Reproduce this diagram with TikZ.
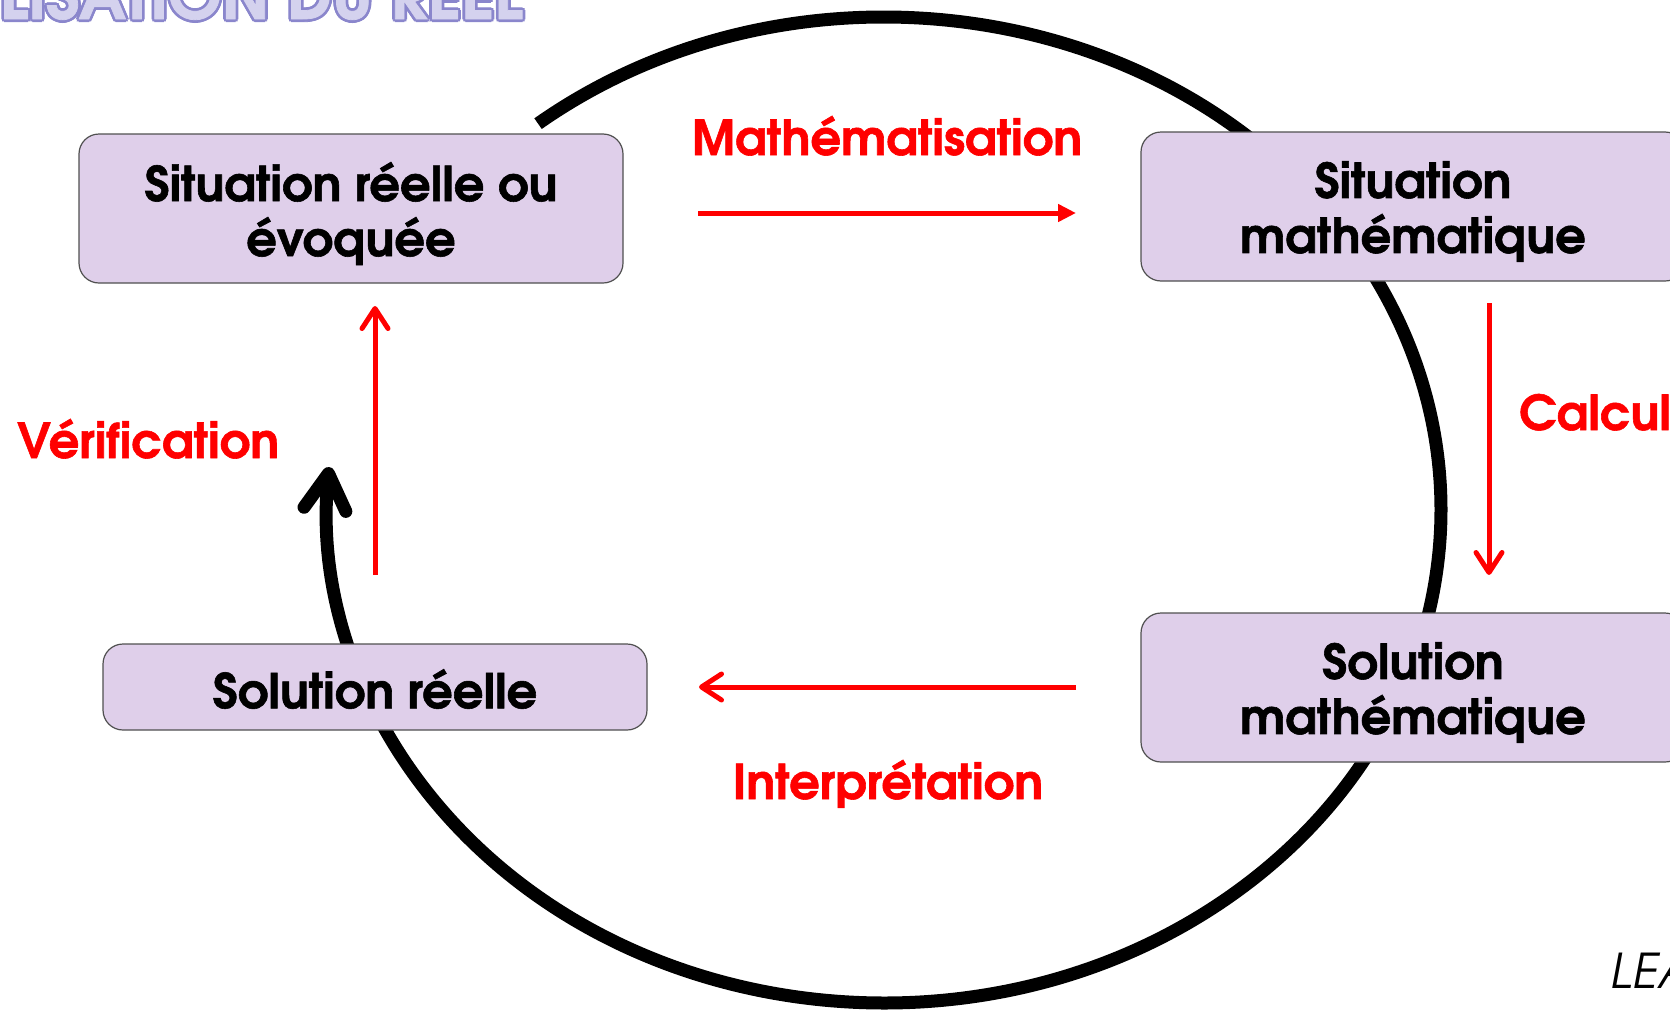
\documentclass[tikz,border=0pt]{standalone}
\usepackage{fontspec}
\setmainfont{TeX Gyre Adventor}[BoldFeatures={FakeBold=1.2}]
\usetikzlibrary{arrows.meta}
\definecolor{boxfill}{RGB}{223,207,234}
\definecolor{boxline}{RGB}{80,80,80}
\definecolor{ttl}{RGB}{138,134,204}
\definecolor{ttlfill}{RGB}{212,210,238}
\begin{document}
\begin{tikzpicture}[x=1pt,y=1pt,
  box/.style={draw=boxline, line width=1.2pt, fill=boxfill, rounded corners=20pt,
    minimum width=544pt, inner sep=0pt},
  boxtext/.style={inner sep=0pt, align=center,
    font=\bfseries\fontsize{48}{55}\selectfont},
  lbl/.style={text=red, font=\bfseries\fontsize{48}{55}\selectfont, inner sep=0pt},
  redarr/.style={draw=red, line width=5pt},
  barb/.style={-{Straight Barb[length=20pt,width=26pt,round]}},
  ttlfont/.style={font=\bfseries\fontsize{64}{64}\selectfont, inner sep=0pt, anchor=base west},
]
\useasboundingbox (0,0) rectangle (1670,-1012);

% title (cropped)
\foreach \a in {0,45,...,315}
  \node[ttlfont, text=ttl] (tt) at ([shift={(\a:2.8)}]0,-19) {LISATION DU RÉEL};
\node[ttlfont, text=ttlfill] (title) at (0,-19) {LISATION DU RÉEL};

% big cycle
\coordinate (c) at (884,-510);
\coordinate (cs) at ([shift={(128.4:557 and 493)}]c);
\draw[line width=13pt, -{Straight Barb[length=36pt,width=42pt,round]}]
  (cs) arc[start angle=128.4, end angle=-185, x radius=557, y radius=493];

% boxes
\node[box, minimum height=149pt] (b1) at (351,-208.5) {};
\node[box, minimum height=149pt] (b2) at (1413,-206.5) {};
\node[box, minimum height=149pt] (b3) at (1413,-687.5) {};
\node[box, minimum height=86pt] (b4) at (375,-687) {};
\node[boxtext, yshift=-5pt] (t1) at (b1.center) {Situation réelle ou\\évoquée};
\node[boxtext, yshift=-5pt] (t2) at (b2.center) {Situation\\mathématique};
\node[boxtext, yshift=-5pt] (t3) at (b3.center) {Solution\\mathématique};
\node[boxtext, yshift=-2pt] (t4) at (b4.center) {Solution réelle};

% red arrows
\coordinate (m1) at (698,-213);
\coordinate (m2) at (1076,-213);
\draw[redarr, -{Triangle[length=18pt,width=17pt]}] (m1) -- (m2);
\coordinate (k1) at (1489,-303);
\coordinate (k2) at (1489,-575);
\draw[redarr, barb] (k1) -- (k2);
\coordinate (i1) at (1076,-687);
\coordinate (i2) at (699,-687);
\draw[redarr, barb] (i1) -- (i2);
\coordinate (v1) at (375,-575);
\coordinate (v2) at (375,-306);
\draw[redarr, barb] (v1) -- (v2);

% labels
\node[lbl, anchor=base] (lm) at (887,-155) {Mathématisation};
\node[lbl, anchor=base west] (lc) at (1519,-430) {Calcul};
\node[lbl, anchor=base west] (lv) at (17,-458) {Vérification};
\node[lbl, anchor=base] (li) at (888,-799) {Interprétation};

% cropped credit
\node[inner sep=0pt, anchor=base west, font=\itshape\fontsize{48}{48}\selectfont] (le) at (1610,-988) {LEA};
\end{tikzpicture}
\end{document}
